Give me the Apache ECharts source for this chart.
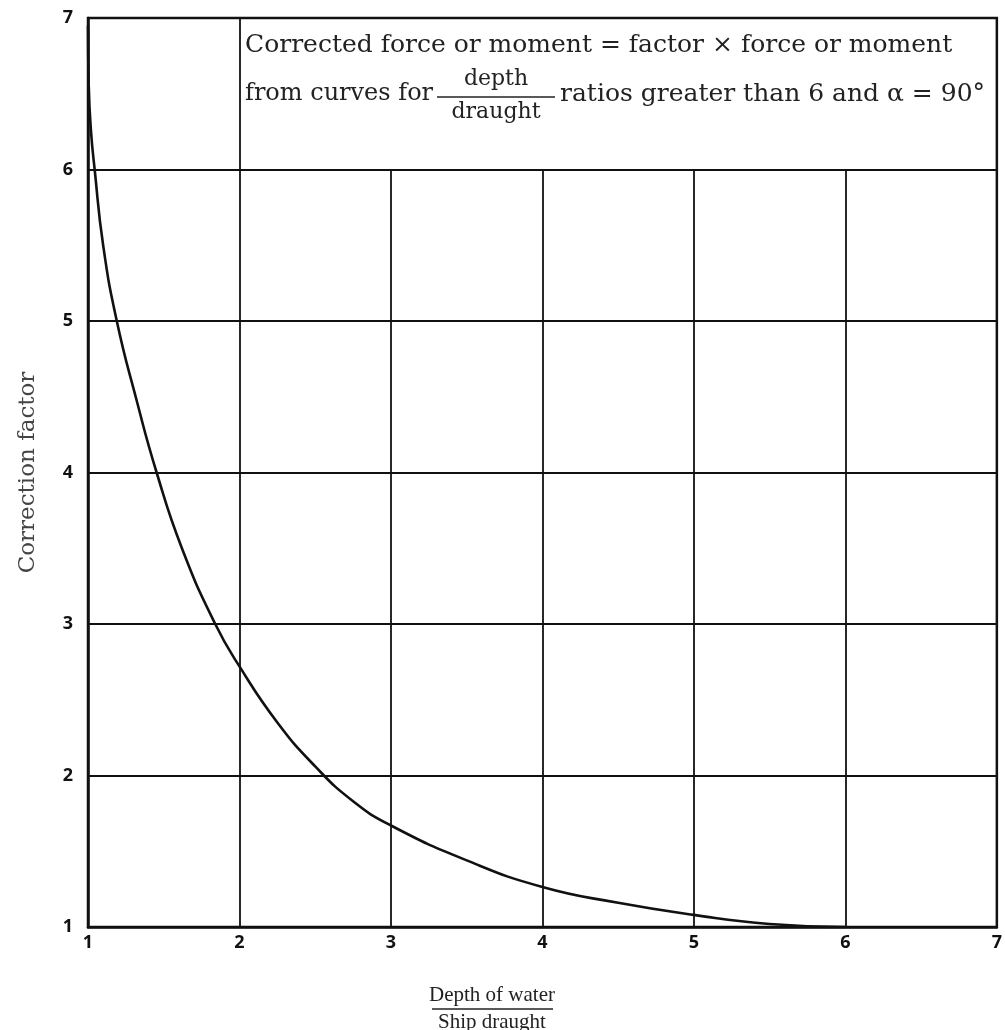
<!DOCTYPE html>
<html>
<head>
<meta charset="utf-8">
<script src="https://cdn.jsdelivr.net/npm/echarts@6/dist/echarts.min.js"></script>
<style>
html,body{margin:0;padding:0;background:#fff;}
#chart{width:1005px;height:1030px;}
</style>
</head>
<body>
<div id="chart"></div>
<script>
// Data
const depthRatio = [1.0, 1.005, 1.02, 1.044, 1.10, 1.19, 1.32, 1.453, 1.62, 1.84, 2.0, 2.25, 2.5, 2.75, 3.0, 3.5, 4.0, 4.5, 5.0, 5.5, 6.0];
const correctionFactor = [6.95, 6.55, 6.25, 6.0, 5.5, 5.0, 4.48, 4.0, 3.5, 3.0, 2.72, 2.35, 2.06, 1.83, 1.67, 1.44, 1.264, 1.16, 1.08, 1.02, 1.0];
const xTicks = [1, 2, 3, 4, 5, 6, 7];
const yTicks = [1, 2, 3, 4, 5, 6, 7];
const xGridValues = [2, 3, 4, 5, 6];
const xGridTops = [7, 6, 6, 6, 6];
const noteLine1 = 'Corrected force or moment = factor \u00d7 force or moment';
const noteLine2a = 'from curves for';
const noteNum = 'depth';
const noteDen = 'draught';
const noteLine2b = 'ratios greater than 6 and \u03b1 = 90\u00b0';
const xNameTop = 'Depth of water';
const xNameBottom = 'Ship draught';
const yName = 'Correction factor';

const serif = '"DejaVu Serif", "Liberation Serif", serif';
const serif2 = '"Liberation Serif", serif';
const sans = '"Open Sans", "Noto Sans", sans-serif';

const chart = echarts.init(document.getElementById('chart'));
const curve = depthRatio.map((x, i) => [x, correctionFactor[i]]);
const gridLines = xGridValues.map((x, i) => [{coord: [x, 1]}, {coord: [x, xGridTops[i]]}]);

chart.setOption({
  animation: false,
  backgroundColor: '#fff',
  grid: {left: 88, right: 7, top: 18, bottom: 103, show: true, borderColor: '#111', borderWidth: 2.5, backgroundColor: 'transparent'},
  xAxis: {
    type: 'value', min: xTicks[0], max: xTicks[xTicks.length - 1], interval: 1,
    axisLine: {show: true, onZero: false, lineStyle: {color: '#111', width: 2.5}},
    axisTick: {show: false},
    splitLine: {show: false},
    axisLabel: {color: '#111', fontFamily: sans, fontSize: 18, fontWeight: 'bold', margin: 7}
  },
  yAxis: {
    type: 'value', min: yTicks[0], max: yTicks[yTicks.length - 1], interval: 1,
    axisLine: {show: true, onZero: false, lineStyle: {color: '#111', width: 2.5}},
    axisTick: {show: false},
    splitLine: {show: true, lineStyle: {color: '#111', width: 1.8}},
    axisLabel: {color: '#111', fontFamily: sans, fontSize: 18, fontWeight: 'bold', margin: 15},
    name: yName, nameLocation: 'middle', nameGap: 48, nameRotate: 90,
    nameTextStyle: {color: '#444', fontFamily: serif, fontSize: 23}
  },
  series: [{
    type: 'line',
    data: curve,
    smooth: 0.5,
    showSymbol: false,
    lineStyle: {color: '#111', width: 2.6},
    markLine: {
      silent: true, symbol: ['none', 'none'],
      label: {show: false},
      lineStyle: {color: '#111', width: 1.8, type: 'solid'},
      data: gridLines
    },
    z: 5
  }],
  graphic: [
    {type: 'text', left: 245, top: 33, style: {text: noteLine1, font: '25px ' + serif, fill: '#222'}},
    {type: 'text', left: 245, top: 82, style: {text: noteLine2a, font: '24px ' + serif, fill: '#222'}},
    {type: 'text', x: 496, y: 79, style: {text: noteNum, font: '22px ' + serif, fill: '#222', align: 'center', verticalAlign: 'middle'}},
    {type: 'line', shape: {x1: 437, y1: 97, x2: 555, y2: 97}, style: {stroke: '#222', lineWidth: 1.5}},
    {type: 'text', x: 496, y: 112, style: {text: noteDen, font: '22px ' + serif, fill: '#222', align: 'center', verticalAlign: 'middle'}},
    {type: 'text', left: 560, top: 82, style: {text: noteLine2b, font: '25px ' + serif, fill: '#222'}},
    {type: 'text', x: 492, y: 995, style: {text: xNameTop, font: '21px ' + serif2, fill: '#222', align: 'center', verticalAlign: 'middle'}},
    {type: 'line', shape: {x1: 432, y1: 1009, x2: 553, y2: 1009}, style: {stroke: '#222', lineWidth: 1.5}},
    {type: 'text', x: 492, y: 1022, style: {text: xNameBottom, font: '21px ' + serif2, fill: '#222', align: 'center', verticalAlign: 'middle'}}
  ]
});
</script>
</body>
</html>
